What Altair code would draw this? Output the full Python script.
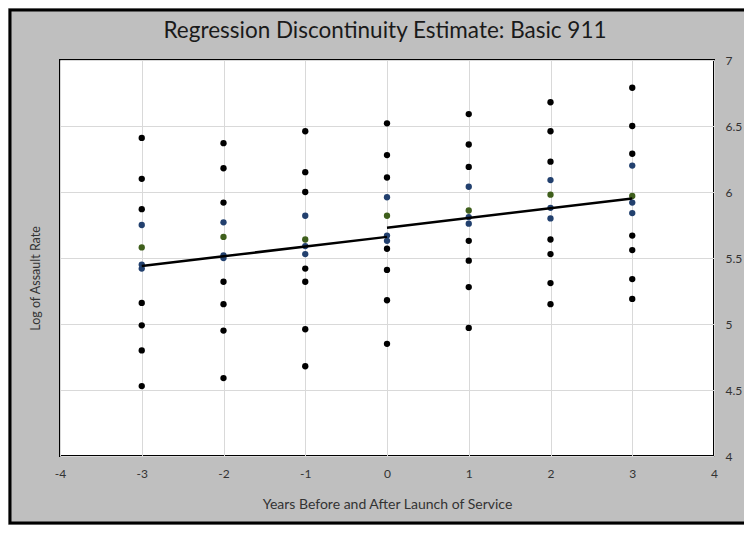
import altair as alt
import pandas as pd

# ---- data ----
years = [-3, -2, -1, 0, 1, 2, 3]
vals_m3 = [6.41, 6.10, 5.87, 5.75, 5.58, 5.45, 5.42, 5.16, 4.99, 4.80, 4.53]
vals_m2 = [6.37, 6.18, 5.92, 5.77, 5.66, 5.52, 5.50, 5.32, 5.15, 4.95, 4.59]
vals_m1 = [6.46, 6.15, 6.00, 5.82, 5.64, 5.59, 5.53, 5.42, 5.32, 4.96, 4.68]
vals_0 = [6.52, 6.28, 6.11, 5.96, 5.82, 5.67, 5.63, 5.57, 5.41, 5.18, 4.85]
vals_p1 = [6.59, 6.36, 6.19, 6.04, 5.86, 5.81, 5.76, 5.63, 5.48, 5.28, 4.97]
vals_p2 = [6.68, 6.46, 6.23, 6.09, 5.98, 5.88, 5.80, 5.64, 5.53, 5.31, 5.15]
vals_p3 = [6.79, 6.50, 6.29, 6.20, 5.97, 5.92, 5.84, 5.67, 5.56, 5.34, 5.19]
series_kind = ["k", "k", "k", "b", "g", "b", "b", "k", "k", "k", "k"]

pre_x = [-3, 0]
pre_y = [5.44, 5.66]
post_x = [0, 3]
post_y = [5.73, 5.95]

x_ticks = [-4, -3, -2, -1, 0, 1, 2, 3, 4]
y_ticks = [4, 4.5, 5, 5.5, 6, 6.5, 7]
title_text = "Regression Discontinuity Estimate: Basic 911"

# ---- build tables ----
rows = []
for yr, vals in zip(years, [vals_m3, vals_m2, vals_m1, vals_0, vals_p1, vals_p2, vals_p3]):
    for i, v in enumerate(vals):
        rows.append({"year": yr, "value": v, "kind": series_kind[i], "order": 0 if series_kind[i] == "k" else 1})
pts = pd.DataFrame(rows)

lines = pd.DataFrame(
    [{"year": x, "value": y, "seg": "pre"} for x, y in zip(pre_x, pre_y)]
    + [{"year": x, "value": y, "seg": "post"} for x, y in zip(post_x, post_y)]
)

W, H = 654, 396
FONT = "Lato"

xscale = alt.Scale(domain=[-4, 4], nice=False, zero=False)
yscale = alt.Scale(domain=[4, 7], nice=False, zero=False)

xaxis = alt.Axis(
    values=x_ticks, title="Years Before and After Launch of Service",
    grid=True, gridColor="#d9d9d9", ticks=False, domain=False,
    labelExpr="datum.value + ''",
    labelFont=FONT, labelFontSize=12, labelColor="#333333", labelPadding=12,
    titleFont=FONT, titleFontSize=14, titleFontWeight="normal", titleColor="#333333",
    titlePadding=18, labelFlush=False,
)
yaxis = alt.Axis(
    values=y_ticks, orient="right", title="Log of Assault Rate",
    grid=True, gridColor="#d9d9d9", ticks=False, domain=False,
    labelExpr="datum.value + ''",
    labelFont=FONT, labelFontSize=12, labelColor="#333333", labelPadding=11,
    labelFlush=False,
    titleFont=FONT, titleFontSize=12.5, titleFontWeight="normal", titleColor="#333333",
    titleAngle=270, titleX=-(W + 25), titleY=218, titleAlign="center", titleBaseline="middle",
)

points = alt.Chart(pts).mark_circle(size=40, opacity=1).encode(
    x=alt.X("year:Q", scale=xscale, axis=xaxis),
    y=alt.Y("value:Q", scale=yscale, axis=yaxis),
    color=alt.Color("kind:N", scale=alt.Scale(domain=["k", "b", "g"], range=["#000000", "#22406e", "#3f5f1c"]), legend=None),
    order=alt.Order("order:Q"),
)

reg = alt.Chart(lines).mark_line(color="black", strokeWidth=2.5).encode(
    x=alt.X("year:Q", scale=xscale),
    y=alt.Y("value:Q", scale=yscale),
    detail="seg:N",
)

frame = alt.Chart(pd.DataFrame({"a": [0]})).mark_rect(
    fill=None, stroke="black", strokeWidth=3
).encode(
    x=alt.value(-50), x2=alt.value(W + 45),
    y=alt.value(-50), y2=alt.value(H + 67),
)

title = alt.Chart(pd.DataFrame({"t": [title_text]})).mark_text(
    font=FONT, fontSize=22.5, color="#1a1a1a", align="center", baseline="middle"
).encode(
    text="t:N", x=alt.value(W / 2 - 2), y=alt.value(-29),
)

chart = alt.layer(points, reg, frame, title).properties(
    width=W, height=H,
    autosize=alt.AutoSizeParams(type="none"),
    padding={"left": 52, "top": 52, "right": 30, "bottom": 69},
    background="#bfbfbf",
).configure_view(
    fill="white", stroke="black", strokeWidth=2,
)

chart.save("out.html", embed_options={"renderer": "svg", "actions": False})
